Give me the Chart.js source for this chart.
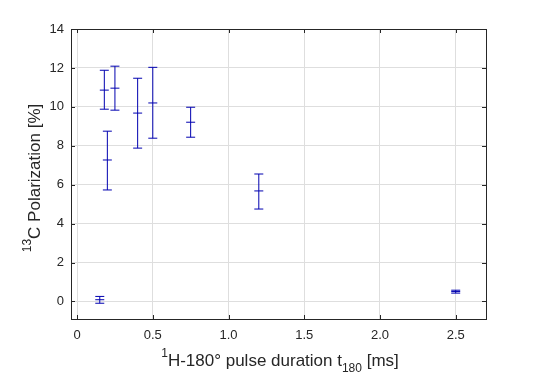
<!DOCTYPE html>
<html>
<head>
<meta charset="utf-8">
<script src="https://cdn.jsdelivr.net/npm/chart.js@4/dist/chart.umd.min.js"></script>
<style>
  html, body { margin: 0; padding: 0; background: #fff; }
  #wrap { width: 538px; height: 378px; }
</style>
</head>
<body>
<div id="wrap"><canvas id="grafica"></canvas></div>
<script>
// pulse duration t180 [ms]
const duracion = [0.15, 0.18, 0.20, 0.25, 0.40, 0.50, 0.75, 1.20, 2.50];
// 13C polarization [%]
const polarizacion = [0.09, 10.86, 7.27, 10.96, 9.68, 10.20, 9.21, 5.68, 0.51];
const errorBajo = [-0.09, 9.88, 5.73, 9.83, 7.88, 8.39, 8.44, 4.75, 0.43];
const errorAlto = [0.26, 11.88, 8.75, 12.09, 11.47, 12.03, 9.98, 6.55, 0.58];

const azul = '#0000b0';
const ejeColor = '#262626';

// vertical error segments separated by gaps
var barras = [];
for (var i = 0; i < duracion.length; i++) {
    barras.push({ x: duracion[i], y: errorBajo[i] });
    barras.push({ x: duracion[i], y: errorAlto[i] });
    barras.push({ x: duracion[i], y: null });
}
function puntos(valores) {
    return duracion.map(function (x, i) { return { x: x, y: valores[i] }; });
}

// draws a text with superscript/subscript pieces centred on (cx, cy)
function textoRico(ctx, partes, cx, cy) {
    var total = 0;
    partes.forEach(function (p) {
        ctx.font = (p.pos ? 12 : 17) + 'px "Liberation Sans", Arial, sans-serif';
        p.w = ctx.measureText(p.t).width;
        total += p.w;
    });
    var x = cx - total / 2;
    ctx.textBaseline = 'middle';
    ctx.textAlign = 'left';
    partes.forEach(function (p) {
        ctx.font = (p.pos ? 12 : 17) + 'px "Liberation Sans", Arial, sans-serif';
        var dy = p.pos === 'sup' ? -7 : (p.pos === 'sub' ? 8 : 0);
        ctx.fillText(p.t, x, cy + dy);
        x += p.w;
    });
}

const marco = {
    id: 'marco',
    afterDraw: function (chart) {
        var ctx = chart.ctx;
        var a = chart.chartArea;
        ctx.save();
        ctx.strokeStyle = ejeColor;
        ctx.lineWidth = 1;
        ctx.strokeRect(Math.round(a.left) + 0.5, Math.round(a.top) + 0.5,
            Math.round(a.right - a.left), Math.round(a.bottom - a.top));
        // inward tick marks
        ctx.beginPath();
        chart.scales.x.ticks.forEach(function (t) {
            var px = Math.round(chart.scales.x.getPixelForValue(t.value)) + 0.5;
            ctx.moveTo(px, a.bottom); ctx.lineTo(px, a.bottom - 4);
            ctx.moveTo(px, a.top); ctx.lineTo(px, a.top + 4);
        });
        chart.scales.y.ticks.forEach(function (t) {
            var py = Math.round(chart.scales.y.getPixelForValue(t.value)) + 0.5;
            ctx.moveTo(a.left, py); ctx.lineTo(a.left + 4, py);
            ctx.moveTo(a.right, py); ctx.lineTo(a.right - 4, py);
        });
        ctx.stroke();
        // axis titles
        ctx.fillStyle = ejeColor;
        textoRico(ctx, [
            { t: '1', pos: 'sup' }, { t: 'H-180° pulse duration t' },
            { t: '180', pos: 'sub' }, { t: ' [ms]' }
        ], 280, 361);
        ctx.translate(35, 178);
        ctx.rotate(-Math.PI / 2);
        textoRico(ctx, [{ t: '13', pos: 'sup' }, { t: 'C Polarization [%]' }], 0, 0);
        ctx.restore();
    }
};

const fuente = { family: '"Liberation Sans", Arial, sans-serif', size: 13 };

new Chart(document.getElementById('grafica'), {
    type: 'scatter',
    data: {
        datasets: [
            { label: 'barras', data: barras, showLine: true, spanGaps: false,
              borderColor: azul, borderWidth: 1, pointRadius: 0 },
            { label: 'bajo', data: puntos(errorBajo), pointStyle: 'line', pointRadius: 4.5,
              borderColor: azul, borderWidth: 1 },
            { label: 'alto', data: puntos(errorAlto), pointStyle: 'line', pointRadius: 4.5,
              borderColor: azul, borderWidth: 1 },
            { label: 'centro', data: puntos(polarizacion), pointStyle: 'line', pointRadius: 4.5,
              borderColor: azul, borderWidth: 1 }
        ]
    },
    options: {
        responsive: true,
        maintainAspectRatio: false,
        animation: false,
        events: [],
        layout: { padding: { top: 29, right: 52, left: 0, bottom: 0 } },
        plugins: { legend: { display: false }, tooltip: { enabled: false } },
        scales: {
            x: {
                type: 'linear', min: -0.04, max: 2.7,
                border: { display: false },
                grid: { color: '#dedede', drawTicks: false },
                ticks: { stepSize: 0.5, includeBounds: false, color: ejeColor, font: fuente,
                         padding: 9, maxRotation: 0 },
                afterFit: function (s) { s.height = 59; }
            },
            y: {
                type: 'linear', min: -0.9, max: 14,
                border: { display: false },
                grid: { color: '#dedede', drawTicks: false },
                ticks: { stepSize: 2, includeBounds: false, color: ejeColor, font: fuente, padding: 7 },
                afterFit: function (s) { s.width = 71; }
            }
        }
    },
    plugins: [marco]
});
</script>
</body>
</html>
